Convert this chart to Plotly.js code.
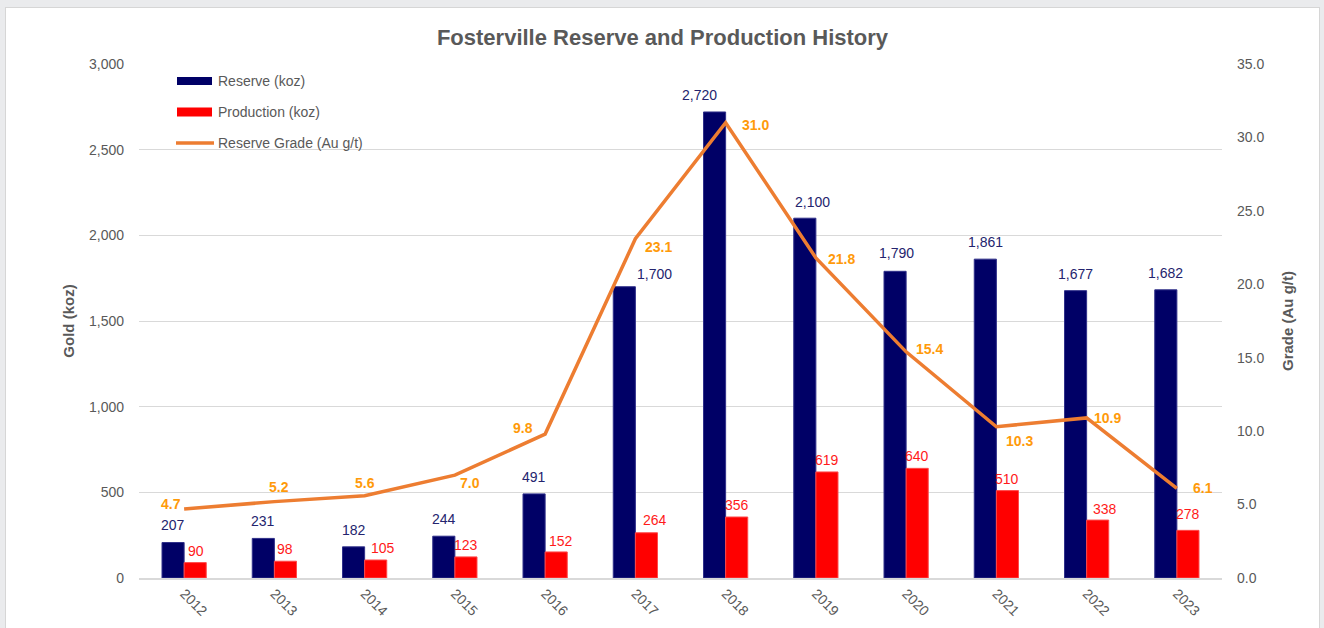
<!DOCTYPE html>
<html>
<head>
<meta charset="utf-8">
<script src="https://cdn.plot.ly/plotly-3.0.1.min.js"></script>
<style>
  html, body { margin: 0; padding: 0; background: #eaebed; overflow: hidden; width: 1324px; height: 628px; }
  #frame { position: absolute; left: 5px; top: 7px; width: 1315px; height: 640px; background: #ffffff; border: 1px solid #d6d6d6; box-sizing: border-box; }
  #chart { position: absolute; left: 0; top: 0; width: 1313px; height: 638px; }
</style>
</head>
<body>
<div id="frame"><div id="chart"></div></div>
<script>
// ---- data ----
const years = ["2012","2013","2014","2015","2016","2017","2018","2019","2020","2021","2022","2023"];
const reserveKoz = [207, 231, 182, 244, 491, 1700, 2720, 2100, 1790, 1861, 1677, 1682];
const productionKoz = [90, 98, 105, 123, 152, 264, 356, 619, 640, 510, 338, 278];
const reserveGrade = [4.7, 5.2, 5.6, 7.0, 9.8, 23.1, 31.0, 21.8, 15.4, 10.3, 10.9, 6.1];
const seriesNames = ["Reserve (koz)", "Production (koz)", "Reserve Grade (Au g/t)"];

// ---- label placement (pixel nudges, layout only) ----
const reserveLabelDx = [0, 0, 0, 0, 0, 30, -15, 8, 1, 0, 0, 0];
const reserveLabelDy = [18, 17, 17, 17, 17, 13, 17, 16, 18, 17, 17, 17];
const prodLabelDx = [1, 0, 7, 0, 5, 9, 0, 0, 0, 0, 7, 0];
const prodLabelDy = [12, 12, 12, 12, 11, 13, 12, 12, 12, 12, 11, 16];
const gradeLabelDx = [-13, 5, 0, 15, -22, 23, 30, 26, 23, 23, 21, 26];
const gradeLabelDy = [5, 15, 13, -8, 6, -8, -2, -1, 3, -14, 0, 0];

const FONT = "Liberation Sans, Arial, sans-serif";
const GRAY = "#595959";
const NAVY = "#000066";
const RED = "#ff0000";
const ORANGE = "#ed7d31";

// plot area in page pixels
const PL = 139, PR = 1222, PT = 64, PB = 578, DIVX = 6, DIVY = 8, W = 1313, H = 638;
const px2x = ax => (ax - PL) / (PR - PL);
const px2y = ay => (PB - ay) / (PB - PT);

const idx = years.map((_, i) => i);
const BAR_GAP = 0.51;
const barOff = (1 - BAR_GAP) / 4; // centre offset of each bar in a group (category units)

const traces = [
  {
    type: "bar", name: seriesNames[0], x: idx, y: reserveKoz,
    marker: { color: NAVY, line: { color: "#30308a", width: 1 } },
    hovertext: years, hoverinfo: "text+y"
  },
  {
    type: "bar", name: seriesNames[1], x: idx, y: productionKoz,
    marker: { color: RED, line: { color: "#ff4a4a", width: 1 } },
    hovertext: years, hoverinfo: "text+y"
  },
  {
    type: "scatter", mode: "lines", name: seriesNames[2], x: idx, y: reserveGrade,
    yaxis: "y2", line: { color: ORANGE, width: 3.5 }, cliponaxis: false,
    hovertext: years, hoverinfo: "text+y"
  }
];

const annotations = [];
for (let i = 0; i < years.length; i++) {
  annotations.push({
    x: i - barOff, y: reserveKoz[i], xref: "x", yref: "y",
    text: reserveKoz[i].toLocaleString("en-US"), showarrow: false,
    xanchor: "center", yanchor: "middle",
    xshift: reserveLabelDx[i], yshift: reserveLabelDy[i],
    font: { family: FONT, size: 14, color: "#24246e" }
  });
  annotations.push({
    x: i + barOff, y: productionKoz[i], xref: "x", yref: "y",
    text: productionKoz[i].toLocaleString("en-US"), showarrow: false,
    xanchor: "center", yanchor: "middle",
    xshift: prodLabelDx[i], yshift: prodLabelDy[i],
    font: { family: FONT, size: 14, color: "#ff1a1a" }
  });
  annotations.push({
    x: i, y: reserveGrade[i], xref: "x", yref: "y2",
    text: "<b>" + reserveGrade[i].toFixed(1) + "</b>", showarrow: false,
    xanchor: "center", yanchor: "middle",
    xshift: gradeLabelDx[i], yshift: gradeLabelDy[i],
    font: { family: FONT, size: 14, color: "#ff9a0a" }
  });
}

// custom legend (wide swatches like the original)
const legendRows = [80.5, 112, 143];
const shapes = [
  { type: "rect", xref: "paper", yref: "paper", x0: px2x(177), x1: px2x(212), y0: px2y(85), y1: px2y(77),
    fillcolor: NAVY, line: { width: 0 } },
  { type: "rect", xref: "paper", yref: "paper", x0: px2x(177), x1: px2x(212), y0: px2y(116.5), y1: px2y(107.5),
    fillcolor: RED, line: { width: 0 } },
  { type: "line", xref: "paper", yref: "paper", x0: px2x(176), x1: px2x(214), y0: px2y(143), y1: px2y(143),
    line: { color: ORANGE, width: 3.5 } }
];
seriesNames.forEach((nm, i) => {
  annotations.push({
    xref: "paper", yref: "paper", x: px2x(216), y: px2y(legendRows[i]),
    text: nm, showarrow: false, xanchor: "left", yanchor: "middle",
    font: { family: FONT, size: 14, color: GRAY }
  });
});

const layout = {
  width: W, height: H,
  margin: { l: PL - DIVX, r: W - (PR - DIVX), t: PT - DIVY, b: H - (PB - DIVY) },
  paper_bgcolor: "rgba(0,0,0,0)", plot_bgcolor: "rgba(0,0,0,0)",
  font: { family: FONT, color: GRAY, size: 14 },
  title: {
    text: "Fosterville Reserve and Production History",
    font: { family: FONT, size: 22, color: GRAY, weight: "bold" },
    x: 0.5, xanchor: "center", y: 1 - 29 / H, yanchor: "middle"
  },
  barmode: "group", bargap: BAR_GAP, bargroupgap: 0,
  showlegend: false,
  annotations: annotations,
  shapes: shapes,
  xaxis: {
    type: "linear", range: [-0.5, years.length - 0.5],
    tickmode: "array", tickvals: idx, ticktext: years,
    tickangle: 45, showgrid: false, zeroline: false,
    showline: true, linecolor: "#d9d9d9", linewidth: 2,
    ticks: "", tickfont: { family: FONT, size: 14, color: GRAY }
  },
  yaxis: {
    range: [0, 3000], dtick: 500, tickformat: ",d",
    showgrid: true, gridcolor: "#d9d9d9", gridwidth: 1,
    zeroline: false, showline: false, ticks: "", ticklabelstandoff: 14,
    tickfont: { family: FONT, size: 14, color: GRAY },
    title: { text: "Gold (koz)", font: { family: FONT, size: 15, color: GRAY, weight: "bold" }, standoff: 10 }
  },
  yaxis2: {
    overlaying: "y", side: "right",
    range: [0, 35], dtick: 5, tickformat: ".1f",
    showgrid: false, zeroline: false, showline: false, ticks: "", ticklabelstandoff: 14,
    tickfont: { family: FONT, size: 14, color: GRAY },
    title: { text: "Grade (Au g/t)", font: { family: FONT, size: 15, color: GRAY, weight: "bold" }, standoff: 19 }
  }
};

Plotly.newPlot("chart", traces, layout, { displayModeBar: false, responsive: false });
</script>
</body>
</html>
